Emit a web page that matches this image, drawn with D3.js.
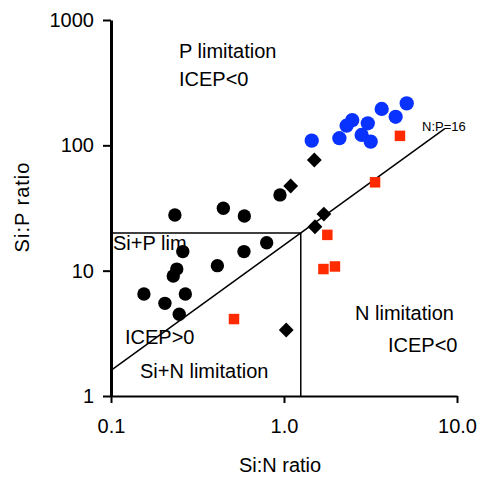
<!DOCTYPE html>
<html>
<head>
<meta charset="utf-8">
<script src="https://cdn.jsdelivr.net/npm/d3@7"></script>
<style>
  body { margin: 0; background: #fff; }
  text { font-family: "Liberation Sans", Arial, sans-serif; fill: #000; }
</style>
</head>
<body>
<div id="vis"></div>
<script>
// set constants
const FRAME_WIDTH = 481;
const FRAME_HEIGHT = 479;
const MARGINS = {left: 111, right: 24, top: 20, bottom: 83};

// data: [Si:N ratio, Si:P ratio]
const blackCircles = [
  [0.234, 27.8], [0.446, 31.5], [0.590, 27.3], [0.948, 40.2],
  [0.794, 16.7], [0.587, 14.2], [0.260, 14.2], [0.240, 10.3],
  [0.229, 9.07], [0.412, 10.96], [0.155, 6.51], [0.205, 5.49],
  [0.269, 6.51], [0.248, 4.49]
];
const blackDiamonds = [
  [1.093, 47.4], [1.497, 76.4], [1.70, 28.3], [1.51, 22.4], [1.03, 3.36]
];
const redSquares = [
  [4.68, 119], [3.36, 50.7], [1.78, 19.3], [1.97, 10.8], [1.69, 10.3], [0.514, 4.11]
];
const blueCircles = [
  [1.446, 109], [2.09, 114], [2.30, 143.5], [2.48, 159], [3.05, 150],
  [2.81, 121], [3.17, 107], [3.67, 195], [4.42, 169], [5.12, 216]
];

const xTicks = [0.1, 1, 10];
const yTicks = [1, 10, 100, 1000];
const npRatio = 16;
const npLineRange = [0.1, 8.5];
const siPLimit = 20;
const siNLimit = 1.25;

const FRAME = d3.select("#vis")
  .append("svg")
    .attr("width", FRAME_WIDTH)
    .attr("height", FRAME_HEIGHT);

const X_SCALE = d3.scaleLog()
  .domain([0.1, 10])
  .range([MARGINS.left, FRAME_WIDTH - MARGINS.right]);

const Y_SCALE = d3.scaleLog()
  .domain([1, 1000])
  .range([FRAME_HEIGHT - MARGINS.bottom, MARGINS.top]);

// x axis
const xAxis = FRAME.append("g")
  .attr("transform", "translate(0," + Y_SCALE(1) + ")")
  .call(d3.axisBottom(X_SCALE).tickValues(xTicks).tickFormat(d3.format(".1f"))
        .tickSize(7).tickSizeOuter(0).tickPadding(16));
xAxis.select(".domain").attr("stroke-width", 2);
xAxis.selectAll(".tick line").attr("stroke-width", 2);
xAxis.selectAll("text").attr("font-size", "20px")
  .attr("font-family", "Liberation Sans, Arial, sans-serif");

// y axis
const yAxis = FRAME.append("g")
  .attr("transform", "translate(" + X_SCALE(0.1) + ",0)")
  .call(d3.axisLeft(Y_SCALE).tickValues(yTicks).tickFormat(d3.format("d"))
        .tickSize(8).tickSizeOuter(0).tickPadding(9));
yAxis.select(".domain").attr("stroke-width", 3);
yAxis.selectAll(".tick line").attr("stroke-width", 2);
yAxis.selectAll("text").attr("font-size", "20px")
  .attr("font-family", "Liberation Sans, Arial, sans-serif");

// axis titles
FRAME.append("text")
  .attr("x", 280).attr("y", 472)
  .attr("text-anchor", "middle")
  .attr("font-size", "20px")
  .text("Si:N ratio");

FRAME.append("text")
  .attr("transform", "translate(29,207) rotate(-90)")
  .attr("text-anchor", "middle")
  .attr("font-size", "20px")
  .attr("letter-spacing", "1px")
  .text("Si:P ratio");

// N:P = 16 line
FRAME.append("line")
  .attr("x1", X_SCALE(npLineRange[0])).attr("y1", Y_SCALE(npLineRange[0] * npRatio))
  .attr("x2", X_SCALE(npLineRange[1])).attr("y2", Y_SCALE(npLineRange[1] * npRatio))
  .attr("stroke", "#000").attr("stroke-width", 1.5);

// Si+P / Si+N box
FRAME.append("line")
  .attr("x1", X_SCALE(0.1)).attr("y1", Y_SCALE(siPLimit))
  .attr("x2", X_SCALE(siNLimit)).attr("y2", Y_SCALE(siPLimit))
  .attr("stroke", "#000").attr("stroke-width", 1.5);
FRAME.append("line")
  .attr("x1", X_SCALE(siNLimit)).attr("y1", Y_SCALE(siPLimit))
  .attr("x2", X_SCALE(siNLimit)).attr("y2", Y_SCALE(1))
  .attr("stroke", "#000").attr("stroke-width", 1.5);

// labels
const labels = [
  ["P limitation", 179, 58, 20],
  ["ICEP<0", 179, 86, 20],
  ["Si+P lim", 113, 250, 20],
  ["ICEP>0", 125, 344, 20],
  ["Si+N limitation", 140, 378, 20],
  ["N limitation", 355, 320, 20],
  ["ICEP<0", 388, 352, 20],
  ["N:P=16", 422, 131, 13]
];
FRAME.selectAll(".lbl")
  .data(labels)
  .enter()
  .append("text")
    .attr("class", "lbl")
    .attr("x", (d) => d[1])
    .attr("y", (d) => d[2])
    .attr("font-size", (d) => d[3] + "px")
    .text((d) => d[0]);

// points
function addPoints(data, type, size, color, rotate) {
  FRAME.append("g").selectAll("path")
    .data(data)
    .enter()
    .append("path")
      .attr("d", d3.symbol().type(type).size(size))
      .attr("transform", (d) => "translate(" + X_SCALE(d[0]) + "," + Y_SCALE(d[1]) + ")" +
                                (rotate ? " rotate(45)" : ""))
      .attr("fill", color);
}

addPoints(blackCircles, d3.symbolCircle, 140, "#000", false);
addPoints(blackDiamonds, d3.symbolSquare, 110, "#000", true);
addPoints(redSquares, d3.symbolSquare, 110, "#ff2a00", false);
addPoints(blueCircles, d3.symbolCircle, 160, "#0a32ff", false);
</script>
</body>
</html>
